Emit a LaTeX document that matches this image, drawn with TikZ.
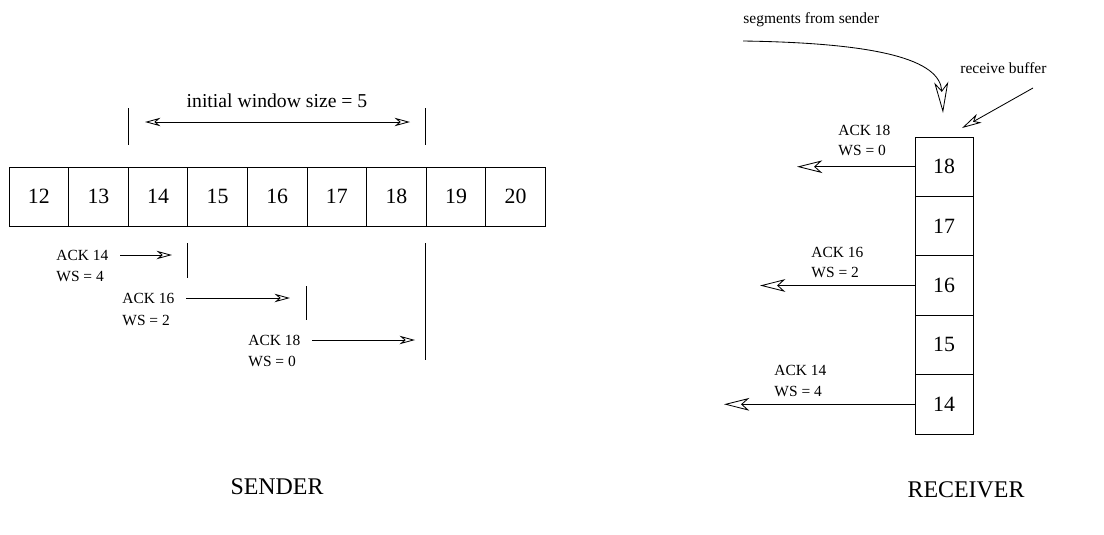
\documentclass[tikz,border=0pt]{standalone}
\usepackage{fontspec}
\setmainfont{Liberation Serif}
\usetikzlibrary{arrows.meta,positioning}

\tikzset{
  cell/.style={draw,line width=0.6pt,minimum width=1.49cm,minimum height=1.475cm,inner sep=0pt,font=\fontsize{15.5}{18}\selectfont},
  bcell/.style={cell,minimum width=1.45cm,minimum height=1.485cm},
  lbl/.style={inner sep=0pt,anchor=west,font=\fontsize{11}{14}\selectfont},
  side/.style={inner sep=0pt,font=\fontsize{17}{20}\selectfont},
  sarr/.style={-{Stealth[open,length=11pt,width=6pt,inset=3.5pt]},line width=0.6pt},
  rarr/.style={-{Stealth[open,length=18pt,width=9pt,inset=5pt]},line width=0.6pt},
}

\begin{document}
\begin{tikzpicture}[x=0.025cm,y=-0.025cm,line width=0.6pt]
\useasboundingbox (0,0) rectangle (1104,534);
% sender window
\node[cell] (c12) at (38.8,196.5) {12};
\node[cell] (c13) at (98.4,196.5) {13};
\node[cell] (c14) at (158,196.5) {14};
\node[cell] (c15) at (217.6,196.5) {15};
\node[cell] (c16) at (277.2,196.5) {16};
\node[cell] (c17) at (336.8,196.5) {17};
\node[cell] (c18) at (396.4,196.5) {18};
\node[cell] (c19) at (456,196.5) {19};
\node[cell] (c20) at (515.6,196.5) {20};
\draw (128,108) -- (128,145);
\draw (425,108) -- (425,145);
\coordinate (wl) at (145,122);
\coordinate (wr) at (410,122);
\draw[{Stealth[open,length=11pt,width=6pt,inset=3.5pt]}-{Stealth[open,length=11pt,width=6pt,inset=3.5pt]}] (wl) -- (wr);
\node[inner sep=0pt,font=\fontsize{14}{16}\selectfont] (wsz) at (277,101) {initial window size = 5};
% acks seen by the sender
\node[lbl] (sa14) at (56,255) {ACK 14};
\node[lbl] (sw4) at (56,276) {WS = 4};
\coordinate (st14) at (172,255);
\draw[sarr] ([xshift=8pt]sa14.east) -- (st14);
\draw (187,243) -- (187,278);
\node[lbl] (sa16) at (122,298) {ACK 16};
\node[lbl] (sw2) at (122,320) {WS = 2};
\coordinate (st16) at (290,298);
\draw[sarr] ([xshift=8pt]sa16.east) -- (st16);
\draw (306,286) -- (306,320);
\node[lbl] (sa18) at (248,340) {ACK 18};
\node[lbl] (sw0) at (248,361) {WS = 0};
\coordinate (st18) at (415,340);
\draw[sarr] ([xshift=8pt]sa18.east) -- (st18);
\draw (425,243) -- (425,360);
\node[side] (snd) at (277,487) {SENDER};
% receive buffer
\node[bcell] (b18) at (944,166.7) {18};
\node[bcell] (b17) at (944,226.1) {17};
\node[bcell] (b16) at (944,285.5) {16};
\node[bcell] (b15) at (944,344.9) {15};
\node[bcell] (b14) at (944,404.3) {14};
\coordinate (e18) at (797,166.7);
\coordinate (e16) at (760,285.5);
\coordinate (e14) at (724,404.3);
\draw[rarr] (b18.west) -- (e18);
\draw[rarr] (b16.west) -- (e16);
\draw[rarr] (b14.west) -- (e14);
\node[lbl] (ra18) at (838,130) {ACK 18};
\node[lbl] (rw0) at (838,150) {WS = 0};
\node[lbl] (ra16) at (811,252) {ACK 16};
\node[lbl] (rw2) at (811,272) {WS = 2};
\node[lbl] (ra14) at (774,370) {ACK 14};
\node[lbl] (rw4) at (774,391) {WS = 4};
\node[lbl] (seg) at (743,20) {segments from sender};
\coordinate (s0) at (743,41);
\coordinate (s1) at (943,113);
\draw[-{Stealth[open,length=22pt,width=10pt,inset=6pt]}] (s0) .. controls (880,43) and (940,60) .. (s1);
\node[lbl] (rbuf) at (960,68) {receive buffer};
\coordinate (rb0) at (1033,88);
\coordinate (rb1) at (962,128);
\draw[-{Stealth[open,length=14pt,width=7pt,inset=4pt]}] (rb0) -- (rb1);
\node[side] (rcv) at (966,490) {RECEIVER};
\end{tikzpicture}
\end{document}
